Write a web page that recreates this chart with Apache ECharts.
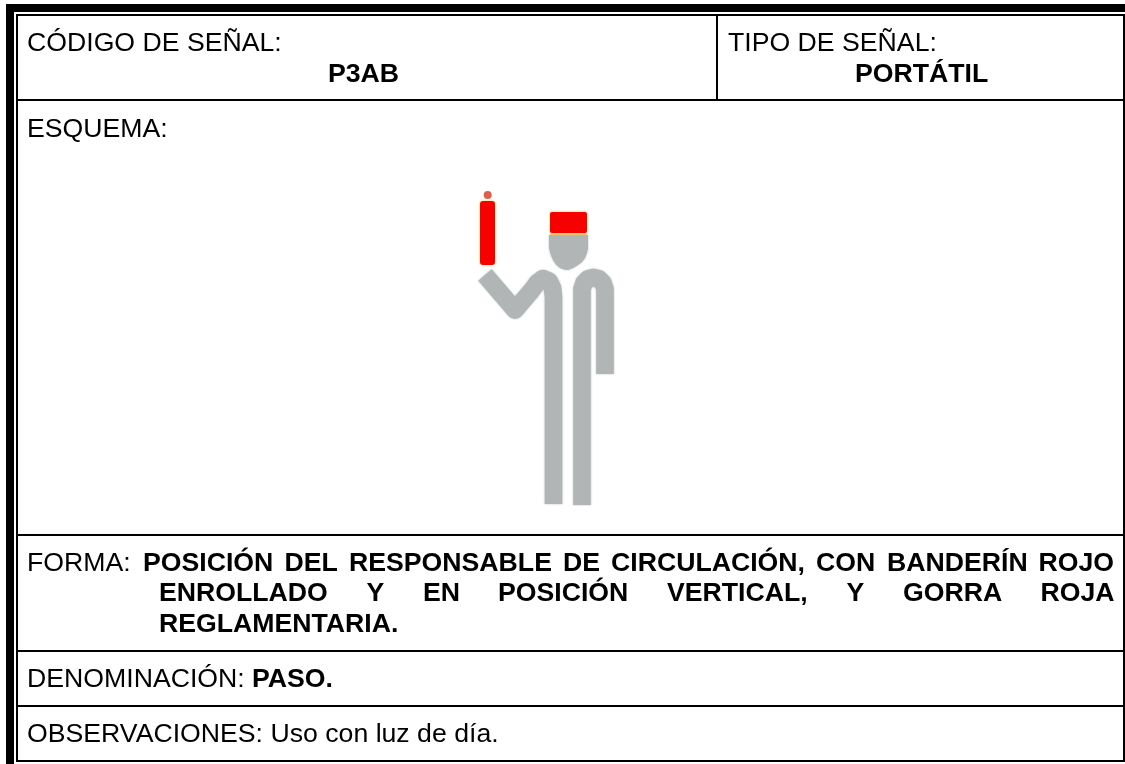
<!DOCTYPE html>
<html>
<head>
<meta charset="utf-8">
<title>P3AB</title>
<script src="https://cdn.jsdelivr.net/npm/echarts@6/dist/echarts.min.js"></script>
<style>html,body{margin:0;padding:0;background:#fff}#main{width:1125px;height:764px}</style>
</head>
<body>
<div id="main"></div>
<script>
// form frame, [x0, y0, x1, y1] in page pixels
var blackBands = [[6, 4, 1125, 12], [6, 4, 14, 764]];
var formRules = [
	[16, 14, 1125, 16], [16, 14, 18, 761], [1123, 14, 1125, 761], [16, 760, 1125, 762],
	[17, 99, 1125, 101], [17, 534, 1125, 536], [17, 650, 1125, 652], [17, 705, 1125, 707],
	[716, 15, 718, 100]
];
// pictogram
var flagRect = [480, 201, 495, 265];
var capRect = [550, 212, 587, 233];
var capEdge = [[550, 234], [587, 234]];
var flagTip = [[487.7, 195]];
var headOutline = [[549, 235], [588, 235], [588, 248], [587, 253], [585, 258], [582, 262], [578, 265], [573, 268], [568, 270], [564, 269.5], [560, 268], [556, 264.5], [553, 260], [550.5, 254], [549, 248]];
var leftLimb = [[485, 275], [515, 310], [532, 290], [537, 283], [543, 278.5], [549, 281], [552.5, 288], [553.5, 297], [553.5, 504]];
var rightLimb = [[582, 505], [582, 289], [584, 283], [588, 279], [593.5, 277.5], [599, 279], [603, 283], [605, 289], [605, 374]];

// text
var labels = [
	['CÓDIGO DE SEÑAL:', 27, 43.5],
	['TIPO DE SEÑAL:', 728, 43.5],
	['ESQUEMA:', 27, 129.5],
	['FORMA:', 27, 563.5],
	['DENOMINACIÓN:', 27, 679.5],
	['OBSERVACIONES: Uso con luz de día.', 27, 734.5]
];
var boldLabels = [
	['P3AB', 328, 74.5],
	['PORTÁTIL', 855, 74.5],
	['POSICIÓN', 143, 563.5], ['DEL', 284.5, 563.5], ['RESPONSABLE', 349, 563.5], ['DE', 563, 563.5], ['CIRCULACIÓN,', 611, 563.5], ['CON', 816, 563.5], ['BANDERÍN', 887, 563.5], ['ROJO', 1038.5, 563.5],
	['ENROLLADO', 159, 593.5], ['Y', 366.5, 593.5], ['EN', 423, 593.5], ['POSICIÓN', 498, 593.5], ['VERTICAL,', 667, 593.5], ['Y', 846.5, 593.5], ['GORRA', 903, 593.5], ['ROJA', 1040.5, 593.5],
	['REGLAMENTARIA.', 159, 624.5],
	['PASO.', 252, 679.5]
];

var chart = echarts.init(document.getElementById('main'), null, {renderer: 'canvas'});

function rectSeries(rects, color, r, glow) {
	return {
		type: 'custom',
		coordinateSystem: 'cartesian2d',
		silent: true,
		data: rects,
		encode: {x: [0, 2], y: [1, 3]},
		renderItem: function (params, api) {
			var a = api.coord([api.value(0), api.value(1)]);
			var b = api.coord([api.value(2), api.value(3)]);
			return {
				type: 'rect',
				shape: {x: a[0], y: a[1], width: b[0] - a[0], height: b[1] - a[1], r: r || 0},
				style: {fill: color, shadowBlur: glow ? 3 : 0, shadowColor: glow || 'transparent'}
			};
		}
	};
}

function limb(points) {
	return {
		type: 'line',
		data: points,
		symbol: 'none',
		silent: true,
		lineStyle: {color: '#b2b5b5', width: 17.5, cap: 'butt', join: 'round', shadowBlur: 2, shadowColor: '#b2b5b5'}
	};
}

function textItems(list, weight) {
	return list.map(function (t) {
		return {
			type: 'text',
			x: t[1],
			y: t[2],
			silent: true,
			style: {
				text: t[0],
				fill: '#000',
				font: weight + ' 26.67px "Liberation Sans", Arial, sans-serif',
				verticalAlign: 'middle'
			}
		};
	});
}

var option = {
	animation: false,
	backgroundColor: '#fff',
	grid: {left: 0, right: 0, top: 0, bottom: 0},
	xAxis: {type: 'value', min: 0, max: 1125, show: false},
	yAxis: {type: 'value', min: 0, max: 764, inverse: true, show: false},
	series: [
		rectSeries(blackBands, '#000'),
		rectSeries(formRules, '#000'),
		rectSeries([flagRect], '#f60000', 3, '#f7c85a'),
		rectSeries([capRect], '#f60000', 2, '#f7c85a'),
		{
			type: 'line', data: capEdge, symbol: 'none', silent: true,
			lineStyle: {color: '#f3c866', width: 2}
		},
		{
			type: 'scatter', data: flagTip, symbol: 'circle', symbolSize: 8, silent: true,
			itemStyle: {color: '#d9351f'}
		},
		{
			type: 'custom',
			coordinateSystem: 'cartesian2d',
			silent: true,
			data: [0],
			renderItem: function (params, api) {
				return {
					type: 'polygon',
					shape: {points: headOutline.map(function (p) { return api.coord(p); })},
					style: {fill: '#b2b5b5', shadowBlur: 2, shadowColor: '#b2b5b5'}
				};
			}
		},
		limb(leftLimb),
		limb(rightLimb)
	],
	graphic: {elements: textItems(labels, 'normal').concat(textItems(boldLabels, 'bold'))}
};
chart.setOption(option);
</script>
</body>
</html>
